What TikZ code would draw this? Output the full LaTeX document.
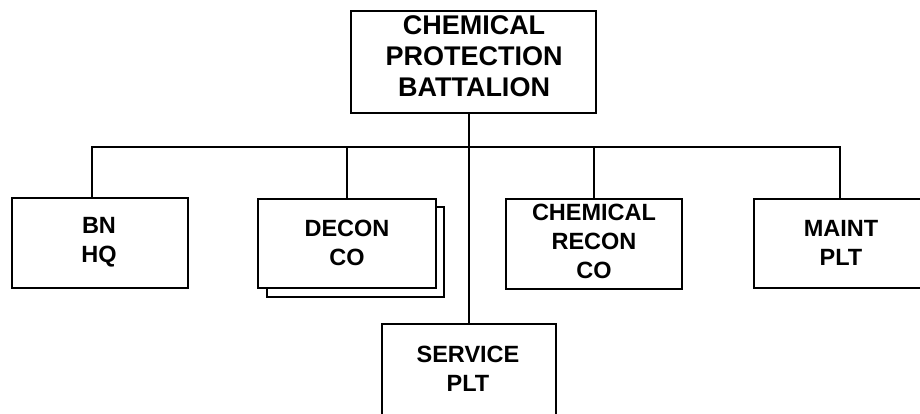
\documentclass[tikz,border=0pt]{standalone}
\usepackage{fontspec}
\setmainfont{Liberation Sans}
\begin{document}
\begin{tikzpicture}[x=1pt,y=-1pt,line width=1.6pt,
  box/.style={draw,fill=white,rectangle,inner sep=0pt},
  lbl/.style={align=center,font=\bfseries\fontsize{23.5}{29}\selectfont,inner sep=0pt},
  biglbl/.style={align=center,font=\bfseries\fontsize{27}{31}\selectfont,inner sep=0pt}]
\useasboundingbox (0,0) rectangle (920,413);
\clip (0,0) rectangle (920,413);
\coordinate (bus) at (0,147);
% boxes
\node[box,minimum width=245pt,minimum height=102pt] (top) at (473.5,62) {};
\node[box,minimum width=176pt,minimum height=90pt] (bnhq) at (100,243) {};
\node[box,minimum width=177pt,minimum height=90pt] (deconshadow) at (355.5,252) {};
\node[box,minimum width=178pt,minimum height=89pt] (decon) at (347,243.5) {};
\node[box,minimum width=176pt,minimum height=90pt] (recon) at (594,244) {};
\node[box,minimum width=172pt,minimum height=89pt] (maint) at (840,243.5) {};
\node[box,minimum width=174pt,minimum height=110pt] (service) at (469,379) {};
% labels
\node[biglbl] at (474,56) {CHEMICAL\\PROTECTION\\BATTALION};
\node[lbl] at (99,242.5) {BN\\HQ};
\node[lbl] at (347,243) {DECON\\CO};
\node[lbl] at (594,241) {CHEMICAL\\RECON\\CO};
\node[lbl] at (841,242.5) {MAINT\\PLT};
\node[lbl] at (468,368.5) {SERVICE\\PLT};
% connectors
\draw (service.north) -- (service.north |- top.south);
\draw ([xshift=-8pt]bnhq.north) -- ([xshift=-8pt]bnhq.north |- bus)
      -- (maint.north |- bus) -- (maint.north);
\draw (decon.north) -- (decon.north |- bus);
\draw (recon.north) -- (recon.north |- bus);
\end{tikzpicture}
\end{document}
